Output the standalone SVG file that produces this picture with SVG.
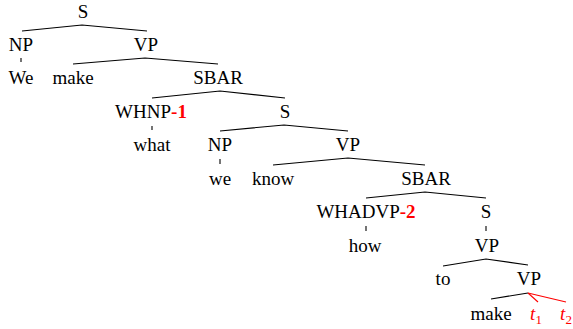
<svg xmlns="http://www.w3.org/2000/svg" width="573" height="329" viewBox="0 0 573 329" font-family="'Liberation Serif', 'Times New Roman', 'DejaVu Serif', serif">
<style>
text{font-family:'Liberation Serif','Times New Roman','DejaVu Serif',serif;font-size:19px;fill:#000;text-anchor:middle}
.r{fill:#f00}
.b{font-weight:bold}
.e{fill:none;stroke:#000;stroke-width:1.1}
.re{fill:none;stroke:#f00;stroke-width:1.1}
</style>
<rect width="573" height="329" fill="#fff"/>
<g id="connectors">
<polyline class="e" points="22,31 82,25 147,31"/>
<line class="e" x1="21" y1="58" x2="21" y2="62"/>
<polyline class="e" points="73,64 145,58 218,64"/>
<polyline class="e" points="152,98 220,91 285,98"/>
<line class="e" x1="152" y1="126" x2="152" y2="130"/>
<polyline class="e" points="220,131 284,125 348,131"/>
<line class="e" x1="220" y1="159" x2="220" y2="164"/>
<polyline class="e" points="273,165 348,158 425,165"/>
<polyline class="e" points="366,198 425,192 486,198"/>
<line class="e" x1="366" y1="226" x2="366" y2="231"/>
<line class="e" x1="486" y1="226" x2="486" y2="231"/>
<polyline class="e" points="443,266 486,259 528,265"/>
<line class="e" x1="491" y1="299" x2="528" y2="293"/>
<line class="re" x1="528" y1="293" x2="538" y2="302"/>
<line class="re" x1="528" y1="293" x2="566" y2="302"/>
</g>
<g id="n_S0"><text x="83" y="18">S</text></g>
<g id="n_NP1"><text x="21" y="51">NP</text></g>
<g id="n_VP1"><text x="146" y="51">VP</text></g>
<g id="n_We"><text x="21" y="84">We</text></g>
<g id="n_make1"><text x="73" y="84">make</text></g>
<g id="n_SBAR1"><text x="218" y="84">SBAR</text></g>
<g id="n_WHNP"><text x="151" y="118">WHNP<tspan class="r b">-1</tspan></text></g>
<g id="n_S1"><text x="285" y="118">S</text></g>
<g id="n_what"><text x="152" y="151">what</text></g>
<g id="n_NP2"><text x="220" y="151">NP</text></g>
<g id="n_VP2"><text x="348" y="151">VP</text></g>
<g id="n_we"><text x="220" y="185">we</text></g>
<g id="n_know"><text x="273" y="185">know</text></g>
<g id="n_SBAR2"><text x="426" y="185">SBAR</text></g>
<g id="n_WHADVP"><text x="366" y="218">WHADVP<tspan class="r b">-2</tspan></text></g>
<g id="n_S2"><text x="486" y="218">S</text></g>
<g id="n_how"><text x="365" y="252">how</text></g>
<g id="n_VP3"><text x="487" y="252">VP</text></g>
<g id="n_to"><text x="443" y="285">to</text></g>
<g id="n_VP4"><text x="529" y="285">VP</text></g>
<g id="n_make2"><text x="491" y="320">make</text></g>
<g id="n_t1"><text class="r" x="536" y="320"><tspan font-style="italic">t</tspan><tspan font-size="13" dy="4">1</tspan></text></g>
<g id="n_t2"><text class="r" x="566" y="320"><tspan font-style="italic">t</tspan><tspan font-size="13" dy="4">2</tspan></text></g>
</svg>
